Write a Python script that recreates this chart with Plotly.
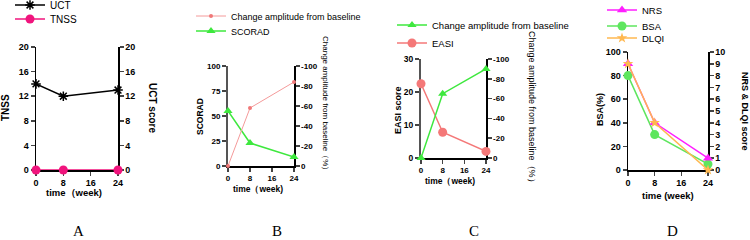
import plotly.graph_objects as go

# ---------------- data ----------------
weeks = [0, 8, 24]
week_ticks = [0, 8, 16, 24]

uct = [14, 12, 13]
tnss = [0, 0, 0]

scorad = [55, 23, 9]
scorad_change = [0, -58, -84]

easi = [22.5, 7.8, 2]
easi_change = [0, -65, -90]

nrs = [9, 4, 1]
bsa = [80, 30, 5]
dlqi = [9, 4, 0]

change_ticks = [0, -20, -40, -60, -80, -100]
change_labels = ["0", "-20", "-40", "-60", "-80", "-100"]

W, H = 750, 240
FONT = "Liberation Sans, Arial, sans-serif"


def px(x):
    return x / W


def py(y):
    return 1 - y / H


fig = go.Figure()

# Panel A
fig.add_trace(go.Scatter(x=weeks, y=uct, name="UCT", xaxis="x", yaxis="y2",
                         mode="lines+markers", line=dict(color="black", width=1.5),
                         marker=dict(symbol="asterisk-open", size=8, color="black",
                                     line=dict(color="black", width=1.5)),
                         cliponaxis=False, legend="legend"))
fig.add_trace(go.Scatter(x=weeks, y=tnss, name="TNSS", xaxis="x", yaxis="y",
                         mode="lines+markers", line=dict(color="#f0147d", width=1.5),
                         marker=dict(symbol="circle", size=9, color="#f0147d"),
                         cliponaxis=False, legend="legend2"))

# Panel B
fig.add_trace(go.Scatter(x=weeks, y=scorad_change, name="Change amplitude from baseline",
                         xaxis="x2", yaxis="y4", mode="lines+markers",
                         line=dict(color="#f49a9a", width=1),
                         marker=dict(symbol="circle", size=4, color="#f07878"),
                         cliponaxis=False, legend="legend3"))
fig.add_trace(go.Scatter(x=weeks, y=scorad, name="SCORAD", xaxis="x2", yaxis="y3",
                         mode="lines+markers", line=dict(color="#3ee83e", width=1.5),
                         marker=dict(symbol="triangle-up", size=8, color="#3ee83e"),
                         cliponaxis=False, legend="legend4"))

# Panel C
fig.add_trace(go.Scatter(x=weeks, y=easi_change, name="Change amplitude from baseline",
                         xaxis="x3", yaxis="y6", mode="lines+markers",
                         line=dict(color="#3ee83e", width=1.5),
                         marker=dict(symbol="triangle-up", size=8, color="#3ee83e"),
                         cliponaxis=False, legend="legend5"))
fig.add_trace(go.Scatter(x=weeks, y=easi, name="EASI", xaxis="x3", yaxis="y5",
                         mode="lines+markers", line=dict(color="#f47878", width=1.5),
                         marker=dict(symbol="circle", size=9, color="#f47878"),
                         cliponaxis=False, legend="legend6"))

# Panel D
fig.add_trace(go.Scatter(x=weeks, y=nrs, name="NRS", xaxis="x4", yaxis="y8",
                         mode="lines+markers", line=dict(color="#ff1eff", width=1.5),
                         marker=dict(symbol="triangle-up", size=9, color="#ff1eff"),
                         cliponaxis=False, legend="legend7"))
fig.add_trace(go.Scatter(x=weeks, y=bsa, name="BSA", xaxis="x4", yaxis="y7",
                         mode="lines+markers", line=dict(color="#5ee65e", width=1.5),
                         marker=dict(symbol="circle", size=9, color="#5ee65e"),
                         cliponaxis=False, legend="legend8"))
fig.add_trace(go.Scatter(x=weeks, y=dlqi, name="DLQI", xaxis="x4", yaxis="y8",
                         mode="lines+markers", line=dict(color="#ffb850", width=1.5),
                         marker=dict(symbol="star", size=8, color="#ffb850"),
                         cliponaxis=False, legend="legend9"))


def tfont(size):
    return dict(family=FONT, size=size, color="black", weight="bold")


def xax(dom, anchor, fs):
    return dict(domain=[px(dom[0]), px(dom[1])], anchor=anchor, range=[0, 24],
                tickvals=week_ticks, ticks="outside", ticklen=4, tickwidth=1.5,
                showline=True, linecolor="black", linewidth=1.5, showgrid=False,
                zeroline=False, tickfont=tfont(fs), layer="below traces",
                automargin=False, fixedrange=True)


def yax(dom, anchor, rng, tickvals, fs, ticktext=None, side="left", overlaying=None,
        linecolor="black", linewidth=1.5):
    d = dict(domain=[py(dom[1]), py(dom[0])], anchor=anchor, range=rng,
             tickvals=tickvals, ticks="outside", ticklen=4, tickwidth=1.5,
             showline=True, linecolor=linecolor, linewidth=linewidth,
             showgrid=False, zeroline=False, tickfont=tfont(fs), side=side,
             layer="below traces", automargin=False, fixedrange=True)
    if ticktext is not None:
        d["ticktext"] = ticktext
    if overlaying:
        d["overlaying"] = overlaying
    return d


A_x, A_y = (36, 118), (47, 170)
B_x, B_y = (228, 294), (66, 166)
C_x, C_y = (421, 486), (59, 158)
D_x, D_y = (628, 708), (52, 170)

fig.update_layout(
    xaxis=xax(A_x, "y", 9),
    yaxis=yax(A_y, "x", [0, 20], [0, 4, 8, 12, 16, 20], 9),
    yaxis2=yax(A_y, "x", [0, 20], [0, 4, 8, 12, 16, 20], 9, side="right", overlaying="y"),
    xaxis2=xax(B_x, "y3", 8),
    yaxis3=yax(B_y, "x2", [0, 100], [0, 25, 50, 75, 100], 8, linecolor="#555555", linewidth=2),
    yaxis4=yax(B_y, "x2", [0, -100], change_ticks, 8, change_labels, side="right", overlaying="y3"),
    xaxis3=xax(C_x, "y5", 8),
    yaxis5=yax(C_y, "x3", [0, 30], [0, 10, 20, 30], 8.5, linecolor="#555555", linewidth=2),
    yaxis6=yax(C_y, "x3", [0, -100], change_ticks, 8, change_labels, side="right", overlaying="y5"),
    xaxis4=xax(D_x, "y7", 9),
    yaxis7=yax(D_y, "x4", [0, 100], [0, 20, 40, 60, 80, 100], 9),
    yaxis8=yax(D_y, "x4", [0, 10], list(range(0, 11)), 9, side="right", overlaying="y7"),
)

ITEM_OFFSET = 14.5  # legend item centre below the legend box top


def leg(x_text, y_center, size):
    return dict(x=px(x_text - 40), y=py(y_center - ITEM_OFFSET), xanchor="left",
                yanchor="top",
                font=dict(family=FONT, size=size, color="black"),
                bgcolor="rgba(0,0,0,0)", borderwidth=0,
                itemclick=False, itemdoubleclick=False)


fig.update_layout(
    legend=leg(50, 5, 10),
    legend2=leg(50, 19, 10),
    legend3=leg(231, 16, 9),
    legend4=leg(231, 31, 9),
    legend5=leg(432, 25, 9.5),
    legend6=leg(432, 43, 9.5),
    legend7=leg(642, 10, 9.5),
    legend8=leg(642, 26, 9.5),
    legend9=leg(642, 38, 9.5),
)

annotations = []


def ann(text, x, y, angle=0, size=9, bold=True, family=FONT):
    f = dict(family=family, size=size, color="black")
    if bold:
        f["weight"] = "bold"
    annotations.append(dict(text=text, x=px(x), y=py(y), xref="paper", yref="paper",
                            showarrow=False, textangle=angle, font=f,
                            xanchor="center", yanchor="middle"))


# Panel A titles
ann("TNSS", 6, 108, -90, 10)
ann("UCT score", 152, 108, 90, 10)
ann("time（week)", 74, 192, 0, 9.5)
# Panel B titles
ann("SCORAD", 200, 117, -90, 8.5)
ann("Change amplitude from baseline（%）", 326, 105, 90, 8, bold=False)
ann("time（week)", 258, 189, 0, 8.5)
# Panel C titles
ann("EASI score", 398, 110, -90, 9)
ann("Change amplitude from baseline（%）", 532, 109, 90, 9, bold=False)
ann("time（week)", 450, 181, 0, 8.5)
# Panel D titles
ann("BSA(%)", 600, 110, -90, 9)
ann("NRS & DLQI score", 745, 111, 90, 9)
ann("time (week)", 668, 195, 0, 9.5)

for letter, lx in zip(["A", "B", "C", "D"], [78, 277, 474, 672]):
    ann(letter, lx, 231, 0, 15, bold=False,
        family="Liberation Serif, Times New Roman, serif")

fig.update_layout(
    annotations=annotations,
    width=W, height=H,
    margin=dict(l=0, r=0, t=0, b=0, autoexpand=False),
    paper_bgcolor="white", plot_bgcolor="white",
    font=dict(family=FONT, color="black"),
    showlegend=True,
)

fig.write_html("out.html", config={"displayModeBar": False, "staticPlot": True},
               post_script="document.body.style.margin='0';")
